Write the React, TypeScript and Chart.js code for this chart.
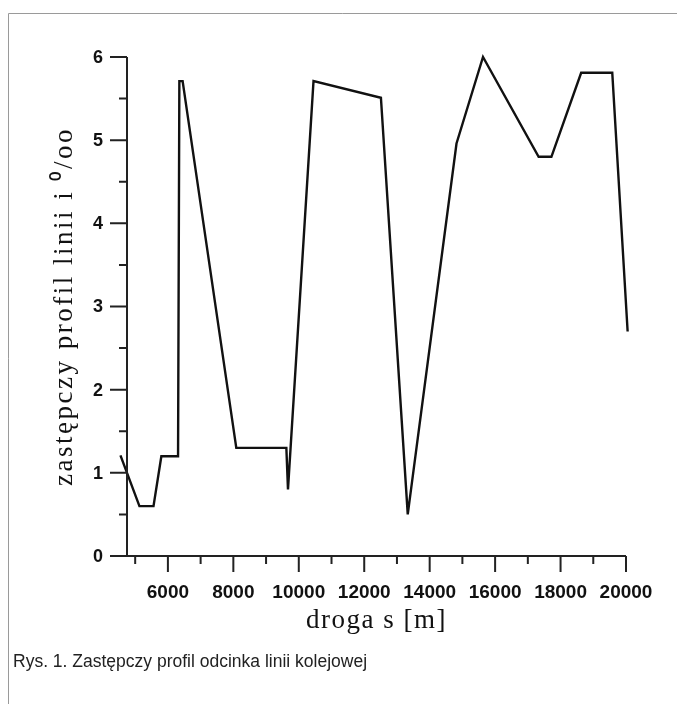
import React, { useEffect, useRef } from "react";
import { Chart, registerables } from "chart.js";

Chart.register(...registerables);

// distance along the line [m]
const distance = [4550, 5130, 5560, 5800, 6310, 6350, 6450, 8090, 9620, 9670, 10450, 12510, 13330, 14820, 15630, 17330, 17720, 18630, 19580, 20050];
// equivalent gradient [per mille]
const gradient = [1.21, 0.6, 0.6, 1.2, 1.2, 5.71, 5.71, 1.3, 1.3, 0.8, 5.71, 5.51, 0.5, 4.96, 6.0, 4.8, 4.8, 5.81, 5.81, 2.7];

const xMajorTicks = [6000, 8000, 10000, 12000, 14000, 16000, 18000, 20000];
const xMinorTicks = [5000, 7000, 9000, 11000, 13000, 15000, 17000, 19000];
const yMajorTicks = [0, 1, 2, 3, 4, 5, 6];
const yMinorTicks = [0.5, 1.5, 2.5, 3.5, 4.5, 5.5];

const xTitle = "droga s [m]";
const yTitle = "zastępczy profil linii i \u2070/oo";
const caption = "Rys. 1. Zastępczy profil odcinka linii kolejowej";

const axesPlugin = {
  id: "customAxes",
  afterDraw(chart: any) {
    const ctx = chart.ctx as CanvasRenderingContext2D;
    const xs = chart.scales.x;
    const ys = chart.scales.y;
    const x0 = xs.getPixelForValue(xs.min);
    const y0 = ys.getPixelForValue(0);
    const yTop = ys.getPixelForValue(6);
    const xEnd = xs.getPixelForValue(20000);
    ctx.save();
    // frame
    ctx.strokeStyle = "#9a9a9a";
    ctx.lineWidth = 1;
    ctx.beginPath();
    ctx.moveTo(8.5, 704);
    ctx.lineTo(8.5, 13.5);
    ctx.lineTo(677, 13.5);
    ctx.stroke();

    ctx.strokeStyle = "#222";
    ctx.lineWidth = 2;
    ctx.beginPath();
    ctx.moveTo(x0 - 17, y0);
    ctx.lineTo(xEnd, y0);
    ctx.moveTo(x0, y0);
    ctx.lineTo(x0, yTop);
    for (const v of yMajorTicks) {
      const p = ys.getPixelForValue(v);
      ctx.moveTo(x0 - 17, p);
      ctx.lineTo(x0, p);
    }
    for (const v of yMinorTicks) {
      const p = ys.getPixelForValue(v);
      ctx.moveTo(x0 - 8, p);
      ctx.lineTo(x0, p);
    }
    for (const v of xMajorTicks) {
      const p = xs.getPixelForValue(v);
      ctx.moveTo(p, y0);
      ctx.lineTo(p, y0 + 16);
    }
    for (const v of xMinorTicks) {
      const p = xs.getPixelForValue(v);
      ctx.moveTo(p, y0);
      ctx.lineTo(p, y0 + 8);
    }
    ctx.stroke();

    ctx.fillStyle = "#111";
    ctx.font = "bold 18px 'Liberation Sans', Arial, sans-serif";
    ctx.textAlign = "right";
    ctx.textBaseline = "middle";
    for (const v of yMajorTicks) {
      ctx.fillText(String(v), x0 - 24, ys.getPixelForValue(v) + 1);
    }
    ctx.font = "bold 19px 'Liberation Sans', Arial, sans-serif";
    ctx.textAlign = "center";
    for (const v of xMajorTicks) {
      ctx.fillText(String(v), xs.getPixelForValue(v), y0 + 37);
    }

    // titles
    ctx.font = "27px 'Liberation Serif', 'Times New Roman', serif";
    (ctx as any).letterSpacing = "1.5px";
    ctx.fillText(xTitle, (x0 + xEnd) / 2, y0 + 65);
    ctx.save();
    ctx.translate(65, (y0 + yTop) / 2);
    ctx.rotate(-Math.PI / 2);
    (ctx as any).letterSpacing = "2.5px";
    ctx.fillText(yTitle, 0, 0);
    ctx.restore();

    (ctx as any).letterSpacing = "0px";
    ctx.font = "17.5px 'Liberation Sans', Arial, sans-serif";
    ctx.textAlign = "left";
    ctx.fillStyle = "#222";
    ctx.fillText(caption, 13, 662);
    ctx.restore();
  },
};

export default function App() {
  const ref = useRef<HTMLCanvasElement>(null);
  useEffect(() => {
    if (!ref.current) return;
    const chart = new Chart(ref.current, {
      type: "line",
      data: {
        datasets: [
          {
            data: distance.map((x, i) => ({ x, y: gradient[i] })),
            borderColor: "#111",
            borderWidth: 2.4,
            pointRadius: 0,
            tension: 0,
            fill: false,
            clip: false as any,
          },
        ],
      },
      options: {
        responsive: false,
        animation: false,
        layout: { padding: { left: 127, right: 51, top: 57, bottom: 148 } },
        plugins: { legend: { display: false }, tooltip: { enabled: false } },
        scales: {
          x: { type: "linear", min: 4750, max: 20000, display: false },
          y: { type: "linear", min: 0, max: 6, display: false },
        },
      },
      plugins: [axesPlugin],
    });
    return () => chart.destroy();
  }, []);
  return (
    <div style={{ position: "absolute", left: 0, top: 0, width: 677, height: 704, background: "#fff" }}>
      <canvas ref={ref} width={677} height={704} style={{ display: "block" }} />
    </div>
  );
}
